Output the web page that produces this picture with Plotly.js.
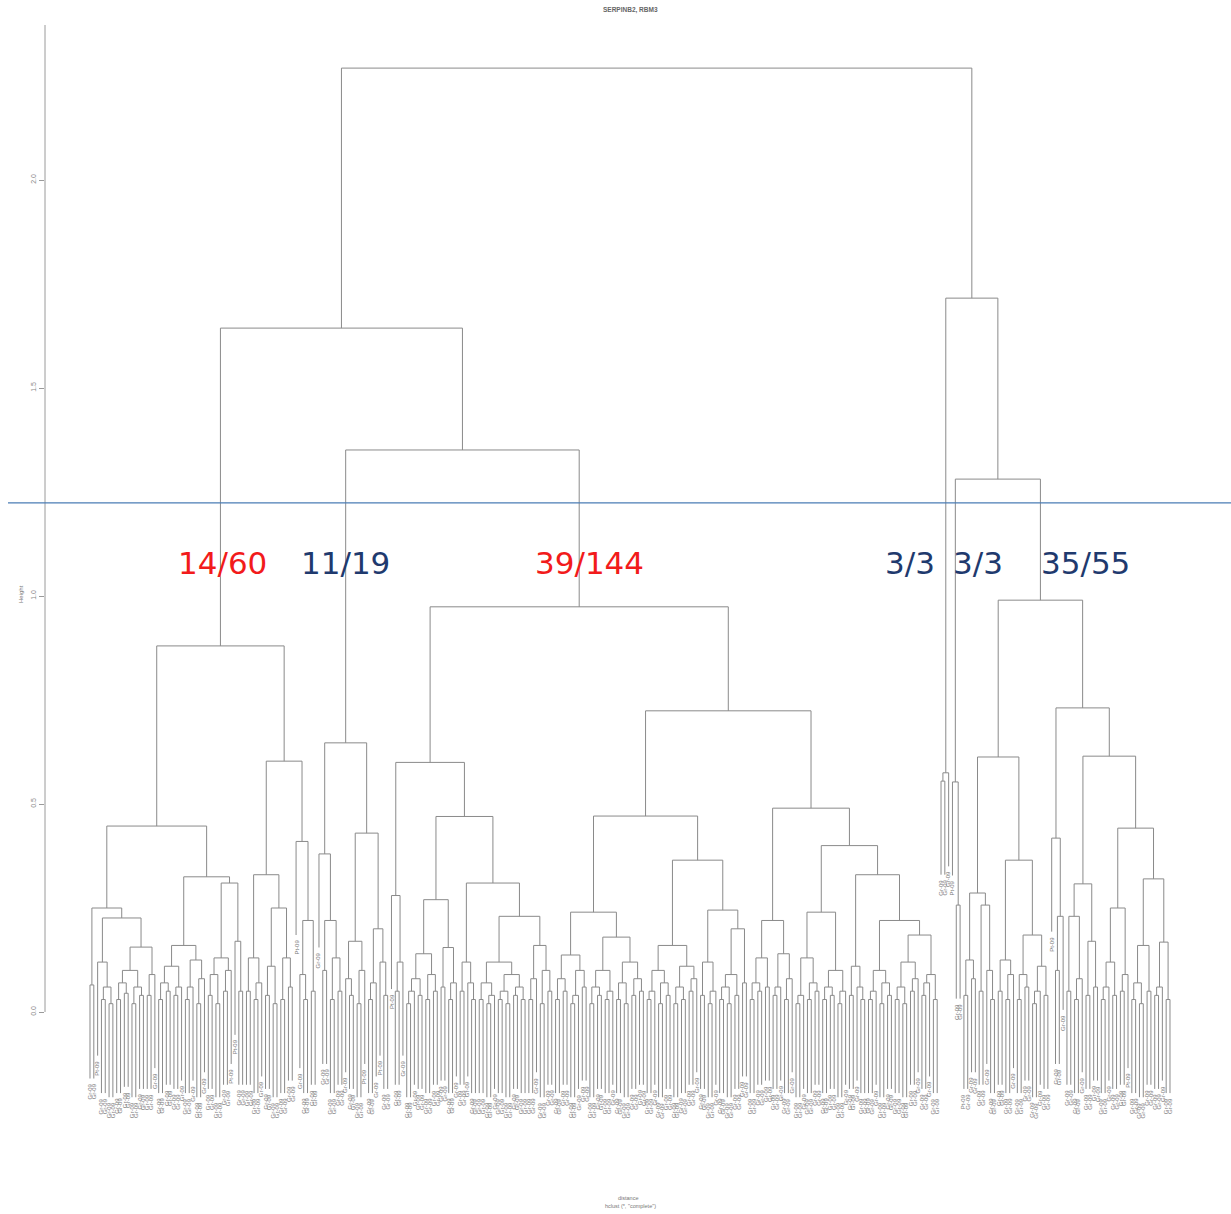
<!DOCTYPE html>
<html><head><meta charset="utf-8">
<script src="https://cdn.plot.ly/plotly-3.0.1.min.js"></script>
<style>html,body{margin:0;padding:0;background:#fff}#chart{width:1231px;height:1214px}</style>
</head><body><div id="chart"></div>
<script>
// ---------- DATA ----------
const chartTitle = 'SERPINB2, RBM3';
const xLabel1 = 'distance';
const xLabel2 = 'hclust (*, "complete")';
const yLabel = 'Height';
const yTickVals = [0, 0.5, 1, 1.5, 2];
const yTickText = ['0.0', '0.5', '1.0', '1.5', '2.0'];
const leafNames = { g: 'Gr-09', p: 'Pt-09' };
const cutHeight = 1.224;
const clusterTexts = ['14/60', '11/19', '39/144', '3/3', '3/3', '35/55'];
const clusterColors = ['#f21b1b', '#1f3a6e', '#f21b1b', '#1f3a6e', '#1f3a6e', '#1f3a6e'];

// merge tree: "(left,right)height", leaves are g/p, capitalised names refer to subtrees
const rootTree = "((A,(B,C)1.351)1.644,D)2.269";
const subtrees = {
  A: "((LL,LR)0.447,(Ra,Rb)0.603)0.88",
  LL: "((g,g)0.065,((p,((g,g)0.03,(g,g)0.02)0.06)0.12,((((g,g)0.03,(g,g)0.045)0.07,((g,g)0.02,(g,g)0.04)0.06)0.1,((g,g)0.04,g)0.09)0.156)0.226)0.25",
  LR: "((LRa1,LRa2)0.16,(LRb1,LRb2)0.31)0.325",
  LRa1: "(((g,g)0.03,(g,g)0.05)0.07,((g,g)0.04,g)0.06)0.11",
  LRa2: "(((g,g)0.03,g)0.06,((g,g)0.02,g)0.08)0.125",
  LRb1: "(((g,g)0.04,(g,g)0.02)0.09,((g,g)0.05,p)0.1)0.13",
  LRb2: "(p,(g,g)0.05)0.17",
  Ra: "(((g,g)0.05,((g,g)0.03,g)0.07)0.13,(((g,g)0.04,(g,g)0.02)0.11,((g,g)0.03,(g,g)0.06)0.13)0.25)0.33",
  Rb: "(p,((g,(g,g)0.03)0.09,(g,g)0.05)0.22)0.41",
  B: "((g,((g,g)0.1,((g,g)0.03,(g,g)0.05)0.13)0.22)0.38,(((g,(g,g)0.04)0.08,((g,g)0.02,p)0.1)0.17,(((g,g)0.03,g)0.07,(p,(g,g)0.04)0.12)0.2)0.43)0.647",
  C: "(C1,(C2a,C2b)0.724)0.974",
  C1: "(C1a,(C1b1,C1b2)0.47)0.6",
  C1a: "(p,((g,g)0.05,g)0.12)0.28",
  C1b1: "(((((g,g)0.02,g)0.05,(g,g)0.04)0.08,((g,g)0.03,(g,g)0.05)0.09)0.14,((g,g)0.06,((g,g)0.03,g)0.07)0.155)0.27",
  C1b2: "(((g,g)0.05,(g,(g,g)0.03)0.07)0.12,(C1b2b1,C1b2b2)0.23)0.31",
  C1b2b1: "(((g,g)0.03,((g,g)0.02,g)0.04)0.07,(((g,g)0.03,(g,g)0.02)0.05,((g,g)0.04,(g,g)0.03)0.06)0.09)0.12",
  C1b2b2: "(((g,g)0.03,g)0.08,((g,g)0.02,(g,g)0.05)0.1)0.16",
  C2a: "(C2a1,(C2a2L,C2a2R)0.365)0.471",
  C2a1: "((((g,g)0.03,(g,g)0.05)0.08,(((g,g)0.02,g)0.04,(g,g)0.06)0.1)0.137,((((g,g)0.02,(g,g)0.04)0.06,((g,g)0.03,g)0.05)0.1,(((g,g)0.03,(g,g)0.02)0.07,((g,g)0.04,(g,g)0.05)0.08)0.12)0.18)0.24",
  C2a2L: "((((g,g)0.03,g)0.05,((g,g)0.02,(g,g)0.04)0.07)0.1,(((g,g)0.02,(g,g)0.03)0.06,((g,g)0.05,g)0.08)0.11)0.16",
  C2a2R: "(((g,g)0.04,((g,g)0.02,g)0.05)0.12,((((g,g)0.03,(g,g)0.02)0.06,(g,g)0.04)0.09,(g,g)0.07)0.2)0.245",
  C2b: "(C2b1,(C2b2L,C2b2R)0.4)0.49",
  C2b1: "((((g,g)0.03,(g,g)0.05)0.07,(g,g)0.06)0.13,(((g,g)0.04,g)0.06,((g,g)0.03,g)0.08)0.14)0.22",
  C2b2L: "((((g,g)0.02,g)0.04,((g,g)0.03,(g,g)0.05)0.07)0.13,(((g,g)0.03,(g,g)0.04)0.06,((g,g)0.02,g)0.05)0.1)0.24",
  C2b2R: "(((g,g)0.04,(g,(g,g)0.03)0.06)0.11,((((g,g)0.03,g)0.05,((g,g)0.02,(g,g)0.04)0.07)0.1,((((g,g)0.03,(g,g)0.02)0.06,((g,g)0.05,g)0.08)0.12,(((g,g)0.04,g)0.07,(g,g)0.03)0.09)0.185)0.22)0.33",
  D: "(D1,(D2a,(D2b1,D2b2)0.99)1.281)1.716",
  D1: "((g,g)0.555,g)0.575",
  D2a: "(p,(g,g)0.257)0.553",
  D2b1: "(D2b1L,D2b1R)0.613",
  D2b1L: "(((p,g)0.04,(g,g)0.08)0.125,((g,g)0.05,(g,(g,g)0.03)0.1)0.257)0.286",
  D2b1R: "(((g,g)0.05,((g,g)0.03,g)0.09)0.125,(((g,g)0.03,(g,g)0.06)0.09,(((g,g)0.02,g)0.05,(g,g)0.04)0.11)0.185)0.365",
  D2b2: "((p,((g,g)0.1,g)0.23)0.418,(D2b2b1,(D2b2b2L,D2b2b2R)0.442)0.615)0.731",
  D2b2b1: "(((g,g)0.05,((g,g)0.03,g)0.08)0.23,((g,g)0.04,(g,g)0.06)0.17)0.308",
  D2b2b2L: "((((g,g)0.03,g)0.06,(g,g)0.04)0.12,((g,g)0.05,p)0.09)0.25",
  D2b2b2R: "((((g,g)0.03,(g,g)0.02)0.07,(g,g)0.05)0.16,(((g,g)0.04,g)0.06,(g,g)0.03)0.168)0.32"
};

// ---------- PARSE ----------
function parseTree(str) {
  let pos = 0;
  function node() {
    const c = str[pos];
    if (c === '(') {
      pos++;
      const a = node();
      pos++; // ','
      const b = node();
      pos++; // ')'
      let num = '';
      while (pos < str.length && /[0-9.]/.test(str[pos])) num += str[pos++];
      return { h: parseFloat(num), kids: [a, b] };
    } else if (/[A-Z]/.test(c)) {
      let id = '';
      while (pos < str.length && /[A-Za-z0-9]/.test(str[pos])) id += str[pos++];
      return parseTree(subtrees[id]);
    } else {
      pos++;
      return { leaf: true, name: leafNames[c] };
    }
  }
  return node();
}
const root = parseTree(rootTree);

// ---------- LAYOUT (order, midpoint x) ----------
const leaves = [];
const internals = [];
function walk(n) {
  if (n.leaf) { leaves.push(n); n.x = leaves.length; return; }
  walk(n.kids[0]); walk(n.kids[1]);
  n.x = (n.kids[0].x + n.kids[1].x) / 2;
  internals.push(n);
}
walk(root);
const hs = internals.map(n => n.h);
const hang = 0.1 * (Math.max(...hs) - Math.min(...hs));

const lx = [], ly = [];
internals.forEach(n => {
  const [a, b] = n.kids;
  const ta = a.leaf ? n.h - hang : a.h;
  const tb = b.leaf ? n.h - hang : b.h;
  if (a.leaf) a.end = ta;
  if (b.leaf) b.end = tb;
  lx.push(a.x, a.x, b.x, b.x, null);
  ly.push(ta, n.h, n.h, tb, null);
});

// ---------- GEOMETRY ----------
const W = 1231, H = 1214;
const mL = 45, mR = 18, mT = 25, mB = 73;
const xr = [-10.79, 295.27];
const yr = [-0.3101, 2.3726];
const pw = W - mL - mR, ph = H - mT - mB;
const pxToPaperX = px => (px - mL) / pw;
const pxToPaperY = py => (H - mB - py) / ph;

const annotations = [];
leaves.forEach(l => {
  annotations.push({
    x: l.x, y: l.end, xref: 'x', yref: 'y', text: l.name, showarrow: false,
    textangle: -90, xanchor: 'center', yanchor: 'top', yshift: -3,
    font: { family: 'Liberation Sans, Arial', size: 6, color: '#7a7a7a' }
  });
});

const clusterPx = [[222, 563], [345, 563], [589, 563], [910, 563], [978, 563], [1085, 563]];
clusterTexts.forEach((t, i) => {
  annotations.push({
    x: pxToPaperX(clusterPx[i][0]), y: pxToPaperY(clusterPx[i][1]), xref: 'paper', yref: 'paper',
    text: t, showarrow: false, xanchor: 'center', yanchor: 'middle',
    font: { family: 'DejaVu Sans', size: 31, color: clusterColors[i] }
  });
});

annotations.push({ x: pxToPaperX(630), y: pxToPaperY(10), xref: 'paper', yref: 'paper', text: '<b>' + chartTitle + '</b>',
  showarrow: false, xanchor: 'center', yanchor: 'middle', font: { family: 'Liberation Sans, Arial', size: 6.5, color: '#666' } });
annotations.push({ x: pxToPaperX(628), y: pxToPaperY(1198), xref: 'paper', yref: 'paper', text: xLabel1,
  showarrow: false, xanchor: 'center', yanchor: 'middle', font: { family: 'Liberation Sans, Arial', size: 5.5, color: '#777' } });
annotations.push({ x: pxToPaperX(630), y: pxToPaperY(1206), xref: 'paper', yref: 'paper', text: xLabel2,
  showarrow: false, xanchor: 'center', yanchor: 'middle', font: { family: 'Liberation Sans, Arial', size: 5.5, color: '#777' } });
annotations.push({ x: pxToPaperX(21), y: pxToPaperY(594), xref: 'paper', yref: 'paper', text: yLabel, textangle: -90,
  showarrow: false, xanchor: 'center', yanchor: 'middle', font: { family: 'Liberation Sans, Arial', size: 6, color: '#777' } });

const trace = {
  type: 'scatter', mode: 'lines', x: lx, y: ly, hoverinfo: 'skip',
  line: { color: '#8a8a8a', width: 1 }, showlegend: false
};

const layout = {
  width: W, height: H,
  margin: { l: mL, r: mR, t: mT, b: mB, pad: 0 },
  paper_bgcolor: '#fff', plot_bgcolor: '#fff',
  showlegend: false,
  xaxis: { range: xr, visible: false, fixedrange: true },
  yaxis: {
    range: yr, tickvals: yTickVals, ticktext: yTickText, tickangle: -90,
    tickfont: { family: 'Liberation Sans, Arial', size: 7, color: '#888' },
    ticks: 'outside', ticklen: 5, tickcolor: '#9a9a9a', tickwidth: 1,
    showline: false, showgrid: false, zeroline: false, fixedrange: true
  },
  shapes: [
    { type: 'line', xref: 'paper', yref: 'y', x0: 0, x1: 0, y0: 0, y1: yr[1], line: { color: '#9a9a9a', width: 1 } },
    { type: 'line', xref: 'paper', yref: 'y', x0: pxToPaperX(8), x1: pxToPaperX(1231), y0: cutHeight, y1: cutHeight,
      line: { color: '#4a7cb5', width: 1.3 } }
  ],
  annotations: annotations
};

Plotly.newPlot('chart', [trace], layout, { displayModeBar: false, staticPlot: true });
</script>
</body></html>
